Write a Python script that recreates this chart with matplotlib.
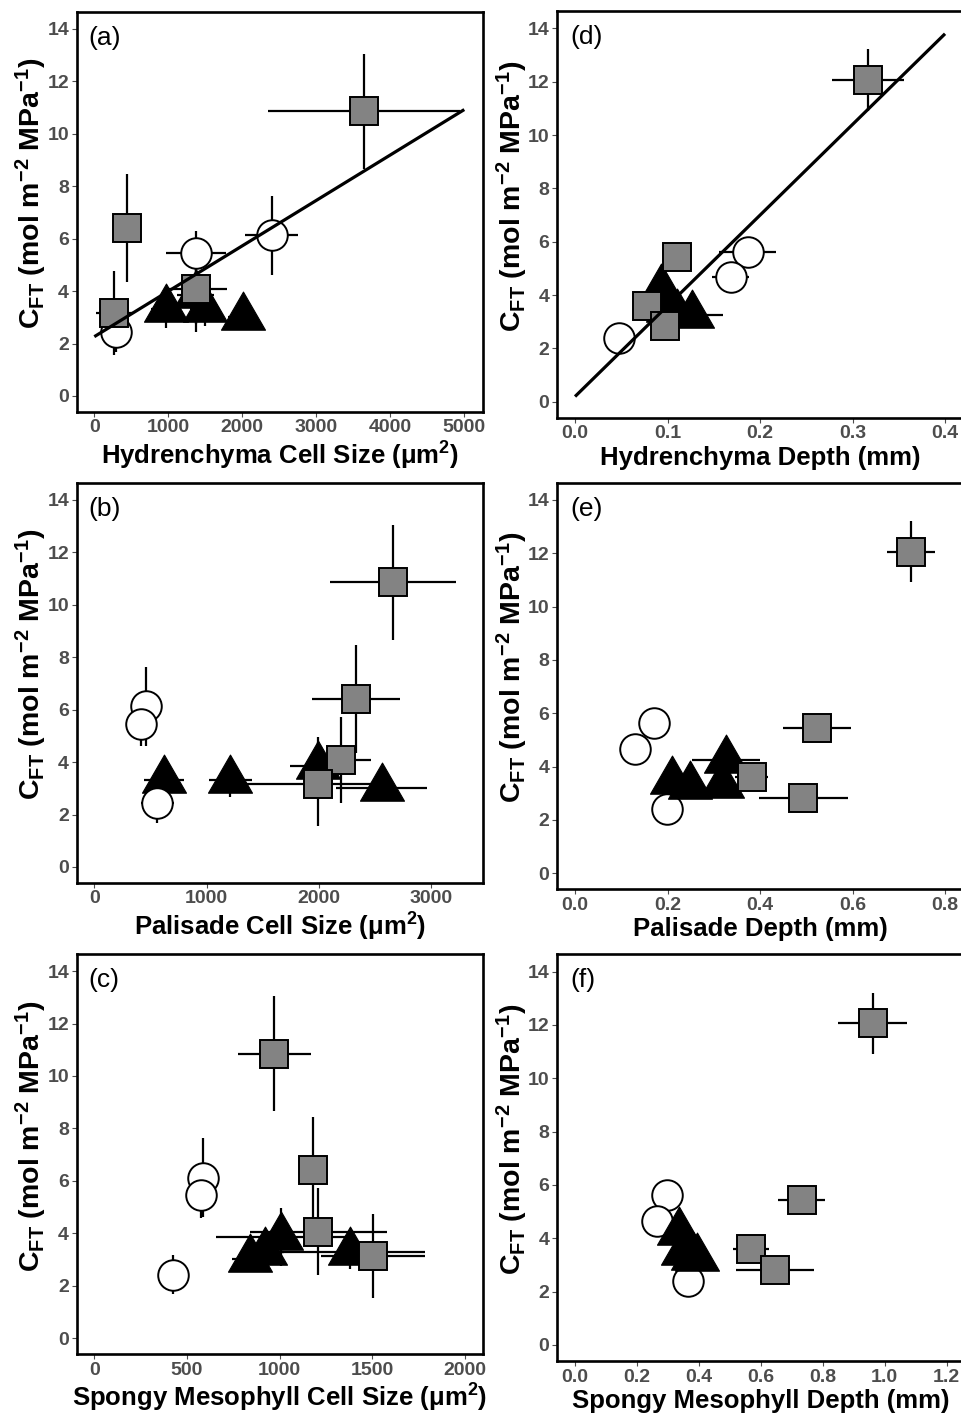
import numpy as np
import matplotlib
matplotlib.use("Agg")
import matplotlib.pyplot as plt
from matplotlib.path import Path

plt.rcParams['font.family'] = ['Liberation Sans', 'DejaVu Sans']
plt.rcParams['mathtext.fontset'] = 'custom'
plt.rcParams['mathtext.rm'] = 'Liberation Sans'
plt.rcParams['mathtext.bf'] = 'Liberation Sans:bold'
plt.rcParams['mathtext.it'] = 'Liberation Sans:italic'
plt.rcParams['mathtext.default'] = 'regular'

# ---------------- data ----------------
# C_FT (left column: panels a-c)
cft_sq_L = [10.85, 6.40, 4.07, 3.15]
cft_sq_L_err = [2.20, 2.05, 1.65, 1.60]
cft_ci_L = [6.12, 5.45, 2.43]
cft_ci_L_err = [1.50, 0.85, 0.75]
cft_tr_L = [3.30, 3.30, 3.85, 3.02]
cft_tr_L_err = [0.70, 0.65, 1.10, 0.50]

# C_FT (right column: panels d-f)
cft_sq_R = [12.06, 5.43, 3.60, 2.83]
cft_sq_R_err = [1.15, 0.30, 0.30, 0.30]
cft_ci_R = [5.63, 4.66, 2.40]
cft_ci_R_err = [0.30, 0.30, 0.30]
cft_tr_R = [4.23, 3.47, 3.30, 3.26]
cft_tr_R_err = [0.30, 0.30, 0.30, 0.30]

# (a) hydrenchyma cell size
hyd_size_sq = [3645, 442, 1374, 271]
hyd_size_sq_err = [1295, 60, 415, 250]
hyd_size_ci = [2397, 1374, 293]
hyd_size_ci_err = [355, 400, 220]
hyd_size_tr = [971, 1492, 1370, 2005]
hyd_size_tr_err = [200, 200, 250, 200]

# (b) palisade cell size
pal_size_sq = [2655, 2328, 2195, 1990]
pal_size_sq_err = [560, 393, 270, 650]
pal_size_ci = [457, 413, 561]
pal_size_ci_err = [40, 60, 150]
pal_size_tr = [620, 1210, 1987, 2557]
pal_size_tr_err = [180, 190, 250, 405]

# (c) spongy mesophyll cell size
spo_size_sq = [971, 1181, 1207, 1505]
spo_size_sq_err = [198, 40, 370, 280]
spo_size_ci = [585, 574, 423]
spo_size_ci_err = [30, 55, 25]
spo_size_tr = [921, 1379, 1005, 842]
spo_size_tr_err = [100, 405, 350, 100]

# (d) hydrenchyma depth
hyd_depth_sq = [0.3164, 0.110, 0.0775, 0.0973]
hyd_depth_sq_err = [0.039, 0.005, 0.008, 0.005]
hyd_depth_ci = [0.1867, 0.1683, 0.048]
hyd_depth_ci_err = [0.031, 0.020, 0.005]
hyd_depth_tr = [0.093, 0.100, 0.110, 0.126]
hyd_depth_tr_err = [0.010, 0.010, 0.010, 0.034]

# (e) palisade depth
pal_depth_sq = [0.726, 0.523, 0.382, 0.494]
pal_depth_sq_err = [0.052, 0.073, 0.035, 0.097]
pal_depth_ci = [0.171, 0.130, 0.198]
pal_depth_ci_err = [0.010, 0.010, 0.010]
pal_depth_tr = [0.326, 0.209, 0.317, 0.249]
pal_depth_tr_err = [0.073, 0.020, 0.020, 0.020]

# (f) spongy mesophyll depth
spo_depth_sq = [0.961, 0.732, 0.568, 0.646]
spo_depth_sq_err = [0.112, 0.075, 0.057, 0.127]
spo_depth_ci = [0.296, 0.264, 0.366]
spo_depth_ci_err = [0.010, 0.010, 0.010]
spo_depth_tr = [0.336, 0.350, 0.380, 0.393]
spo_depth_tr_err = [0.020, 0.020, 0.020, 0.020]

panel_labels = ['(a)', '(b)', '(c)', '(d)', '(e)', '(f)']
x_titles = ['Hydrenchyma Cell Size (μm$^{2}$)', 'Palisade Cell Size (μm$^{2}$)',
            'Spongy Mesophyll Cell Size (μm$^{2}$)', 'Hydrenchyma Depth (mm)',
            'Palisade Depth (mm)', 'Spongy Mesophyll Depth (mm)']
y_title = r'$\mathbf{C_{FT}}$ (mol m$^{\mathbf{-2}}$ MPa$^{\mathbf{-1}}$)'
y_ticks = [0, 2, 4, 6, 8, 10, 12, 14]

# ---------------- layout ----------------
W, H = 962, 1414
fig = plt.figure(figsize=(W / 100, H / 100), dpi=100)

def rect(x0, x1, y_top, y_bot):
    return [x0 / W, 1 - y_bot / H, (x1 - x0) / W, (y_bot - y_top) / H]

# pixel boxes (x0, x1, top, bottom)
boxes = {
    'a': (76.7, 483.3, 11.7, 411.7),
    'b': (76.7, 483.3, 482.7, 882.7),
    'c': (76.7, 483.3, 954.0, 1354.0),
    'd': (557.0, 964.0, 11.0, 417.7),
    'e': (557.0, 964.0, 482.6, 889.3),
    'f': (557.0, 964.0, 954.3, 1361.0),
}
xlims = {
    'a': (-238, 5257), 'b': (-157, 3461), 'c': (-95, 2098),
    'd': (-0.0195, 0.4205), 'e': (-0.0389, 0.841), 'f': (-0.0581, 1.256),
}
xticks = {
    'a': [0, 1000, 2000, 3000, 4000, 5000],
    'b': [0, 1000, 2000, 3000],
    'c': [0, 500, 1000, 1500, 2000],
    'd': [0.0, 0.1, 0.2, 0.3, 0.4],
    'e': [0.0, 0.2, 0.4, 0.6, 0.8],
    'f': [0.0, 0.2, 0.4, 0.6, 0.8, 1.0, 1.2],
}

tri_path = Path([(0, 1), (-np.sqrt(3) / 2, -0.5), (np.sqrt(3) / 2, -0.5), (0, 1)],
                [Path.MOVETO, Path.LINETO, Path.LINETO, Path.CLOSEPOLY])

panels = [
    ('a', hyd_size_sq, hyd_size_sq_err, hyd_size_ci, hyd_size_ci_err, hyd_size_tr, hyd_size_tr_err, 'L', (0, 5000)),
    ('b', pal_size_sq, pal_size_sq_err, pal_size_ci, pal_size_ci_err, pal_size_tr, pal_size_tr_err, 'L', None),
    ('c', spo_size_sq, spo_size_sq_err, spo_size_ci, spo_size_ci_err, spo_size_tr, spo_size_tr_err, 'L', None),
    ('d', hyd_depth_sq, hyd_depth_sq_err, hyd_depth_ci, hyd_depth_ci_err, hyd_depth_tr, hyd_depth_tr_err, 'R', (0, 0.40)),
    ('e', pal_depth_sq, pal_depth_sq_err, pal_depth_ci, pal_depth_ci_err, pal_depth_tr, pal_depth_tr_err, 'R', None),
    ('f', spo_depth_sq, spo_depth_sq_err, spo_depth_ci, spo_depth_ci_err, spo_depth_tr, spo_depth_tr_err, 'R', None),
]

tick_color = '#4D4D4D'

for i, (key, xs, xse, xc, xce, xt, xte, col, fit_range) in enumerate(panels):
    if col == 'L':
        ys, yse, yc, yce, yt, yte = cft_sq_L, cft_sq_L_err, cft_ci_L, cft_ci_L_err, cft_tr_L, cft_tr_L_err
    else:
        ys, yse, yc, yce, yt, yte = cft_sq_R, cft_sq_R_err, cft_ci_R, cft_ci_R_err, cft_tr_R, cft_tr_R_err
    x0, x1, yt_px, yb_px = boxes[key]
    ax = fig.add_axes(rect(x0, x1, yt_px, yb_px))
    ax.set_xlim(*xlims[key])
    ax.set_ylim(-0.6, 14.65)

    ekw = dict(fmt='none', ecolor='black', elinewidth=1.6, capsize=0, zorder=2)
    ax.errorbar(xs, ys, xerr=xse, yerr=yse, **ekw)
    ax.errorbar(xc, yc, xerr=xce, yerr=yce, **ekw)
    ax.errorbar(xt, yt, xerr=xte, yerr=yte, **ekw)

    z_ci, z_tr = (4, 3) if col == 'L' else (3, 4)
    ax.plot(xt, yt, linestyle='none', marker=tri_path, markersize=36.6,
            markerfacecolor='black', markeredgecolor='black', markeredgewidth=0.8, zorder=z_tr)
    ax.plot(xc, yc, linestyle='none', marker='o', markersize=22,
            markerfacecolor='white', markeredgecolor='black', markeredgewidth=1.4, zorder=z_ci)
    ax.plot(xs, ys, linestyle='none', marker='s', markersize=20,
            markerfacecolor='#838383', markeredgecolor='black', markeredgewidth=1.4, zorder=5)

    if fit_range is not None:
        allx = np.array(list(xs) + list(xc) + list(xt), dtype=float)
        ally = np.array(list(ys) + list(yc) + list(yt), dtype=float)
        slope, icpt = np.polyfit(allx, ally, 1)
        lx = np.array(fit_range, dtype=float)
        ax.plot(lx, icpt + slope * lx, color='black', linewidth=2.3, zorder=6,
                solid_capstyle='butt')

    ax.set_xticks(xticks[key])
    if key in 'def':
        ax.set_xticklabels(['%.1f' % v for v in xticks[key]])
    ax.set_yticks(y_ticks)
    ax.tick_params(axis='both', which='major', direction='out', length=3.5, width=0.8,
                   color=tick_color, labelcolor=tick_color, labelsize=14, pad=2)
    for lab in ax.get_xticklabels() + ax.get_yticklabels():
        lab.set_fontweight('bold')
    for sp in ax.spines.values():
        sp.set_linewidth(1.9)
        sp.set_color('black')

    h_px = yb_px - yt_px
    w_px = x1 - x0
    ax.set_xlabel(x_titles[i], fontsize=18.5, fontweight='bold', color='black')
    ax.xaxis.set_label_coords(0.5, -(44.0 if col == 'L' else 40.0) / h_px)
    ax.xaxis.label.set_va('center')
    ax.set_ylabel(y_title, fontsize=20.5, fontweight='bold', color='black')
    ax.yaxis.set_label_coords(-(45.0 / w_px), 0.545)
    ax.yaxis.label.set_va('center')

    ax.text((11.5 if col == 'L' else 13.0) / w_px, 1 - 26.0 / h_px, panel_labels[i],
            transform=ax.transAxes, fontsize=19, ha='left', va='center', color='black')

fig.savefig('out.png', dpi=100, facecolor='white')
